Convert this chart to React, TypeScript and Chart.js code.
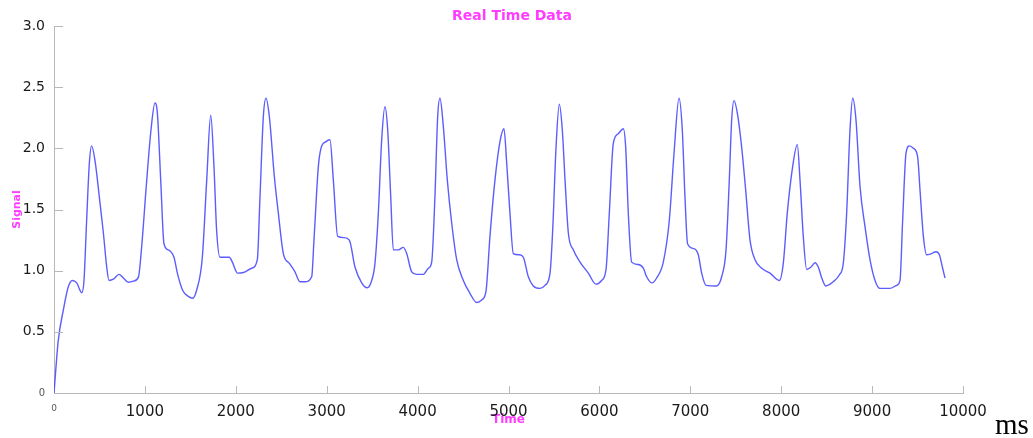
import React, { useEffect, useRef } from "react";
import { Chart, registerables } from "chart.js";

Chart.register(...registerables);

const timeMs = [
  0, 47, 103, 158, 202, 250, 305, 330, 359, 389, 414, 451, 499, 543, 580, 605, 653, 715, 763, 818, 873, 928,
  965, 1012, 1067, 1111, 1137, 1174, 1210, 1258, 1320, 1357, 1415, 1478, 1525, 1569, 1632, 1680, 1724, 1760,
  1789, 1826, 1929, 1962, 2020, 2083, 2174, 2237, 2266, 2303, 2332, 2369, 2424, 2468, 2523, 2589, 2651, 2706,
  2761, 2835, 2860, 2908, 2937, 2992, 3036, 3073, 3121, 3190, 3249, 3311, 3385, 3445, 3495, 3531, 3568, 3605,
  3641, 3671, 3704, 3733, 3788, 3843, 3880, 3935, 3990, 4063, 4118, 4155, 4191, 4221, 4246, 4283, 4327, 4375,
  4430, 4503, 4576, 4650, 4705, 4752, 4796, 4851, 4906, 4950, 4980, 5016, 5053, 5119, 5163, 5218, 5273, 5347,
  5402, 5457, 5486, 5523, 5559, 5592, 5622, 5658, 5713, 5787, 5878, 5962, 6025, 6073, 6109, 6153, 6208, 6263,
  6289, 6318, 6355, 6428, 6483, 6520, 6575, 6630, 6703, 6769, 6821, 6876, 6912, 6941, 6970, 7040, 7088, 7125,
  7173, 7290, 7345, 7393, 7429, 7455, 7481, 7517, 7565, 7609, 7657, 7712, 7785, 7877, 7979, 8023, 8067, 8126,
  8177, 8207, 8243, 8280, 8328, 8372, 8408, 8446, 8490, 8573, 8639, 8683, 8720, 8757, 8787, 8823, 8867, 8922,
  8977, 9032, 9087, 9197, 9270, 9307, 9336, 9373, 9410, 9454, 9501, 9527, 9564, 9600, 9655, 9703, 9740, 9773,
  9802,
];

const signal = [
  0, 0.43, 0.68, 0.87, 0.92, 0.9, 0.82, 0.92, 1.41, 1.88, 2.02, 1.9, 1.6, 1.31, 1.03, 0.92, 0.93, 0.97, 0.94,
  0.905, 0.915, 0.945, 1.2, 1.66, 2.15, 2.37, 2.29, 1.74, 1.22, 1.17, 1.11, 0.98, 0.84, 0.79, 0.775, 0.84, 1.11,
  1.74, 2.27, 1.85, 1.33, 1.11, 1.11, 1.07, 0.98, 0.985, 1.02, 1.09, 1.6, 2.26, 2.41, 2.26, 1.77, 1.47, 1.14,
  1.06, 0.99, 0.91, 0.91, 0.95, 1.25, 1.85, 2.0, 2.055, 2.07, 1.74, 1.28, 1.27, 1.25, 1.03, 0.9, 0.86, 0.92,
  1.06, 1.47, 2.07, 2.34, 2.15, 1.61, 1.17, 1.17, 1.19, 1.14, 0.99, 0.97, 0.97, 1.02, 1.07, 1.61, 2.26, 2.41,
  2.18, 1.74, 1.39, 1.09, 0.92, 0.815, 0.74, 0.76, 0.83, 1.28, 1.74, 2.055, 2.16, 1.88, 1.47, 1.14, 1.13, 1.11,
  0.95, 0.875, 0.855, 0.88, 0.98, 1.33, 2.01, 2.36, 2.15, 1.74, 1.31, 1.17, 1.07, 0.98, 0.89, 0.92, 1.01, 1.47,
  2.04, 2.12, 2.16, 2.01, 1.47, 1.07, 1.05, 1.02, 0.95, 0.9, 0.94, 1.07, 1.41, 1.96, 2.41, 2.15, 1.61, 1.22,
  1.18, 1.13, 0.98, 0.88, 0.875, 0.95, 1.17, 1.74, 2.23, 2.39, 2.29, 2.01, 1.66, 1.25, 1.09, 1.02, 0.98, 0.92,
  1.06, 1.47, 1.85, 2.03, 1.74, 1.28, 1.01, 1.03, 1.065, 1.03, 0.94, 0.875, 0.91, 0.965, 1.06, 1.47, 2.15, 2.41,
  2.23, 1.69, 1.36, 1.09, 0.92, 0.855, 0.855, 0.88, 0.92, 1.41, 1.96, 2.02, 2.0, 1.93, 1.66, 1.28, 1.13, 1.14,
  1.155, 1.13, 1.03, 0.94,
];

const xTickValues = [0, 1000, 2000, 3000, 4000, 5000, 6000, 7000, 8000, 9000, 10000];
const yTickValues = [0, 0.5, 1.0, 1.5, 2.0, 2.5, 3.0];

const MAGENTA = "#ff3cff";
const AXIS_GRAY = "#b8b8b8";

// Draws short tick marks pointing into the plot area, positioned by the chart's own scales.
const insideTicks = {
  id: "insideTicks",
  afterDraw(chart: any) {
    const { ctx, scales } = chart;
    const xs = scales.x;
    const ys = scales.y;
    ctx.save();
    ctx.strokeStyle = AXIS_GRAY;
    ctx.lineWidth = 1;
    ctx.beginPath();
    xTickValues.forEach((v) => {
      if (v === 0) return;
      const px = Math.round(xs.getPixelForValue(v)) + 0.5;
      ctx.moveTo(px, ys.bottom);
      ctx.lineTo(px, ys.bottom - 7);
    });
    yTickValues.forEach((v) => {
      const py = Math.round(ys.getPixelForValue(v)) + 0.5;
      const len = v === 0 ? 17 : 9;
      ctx.moveTo(xs.left, py);
      ctx.lineTo(xs.left + len, py);
    });
    ctx.stroke();
    ctx.restore();
  },
};

export default function App() {
  const canvasRef = useRef<HTMLCanvasElement | null>(null);

  useEffect(() => {
    if (!canvasRef.current) return;
    const points = timeMs.map((t, i) => ({ x: t, y: signal[i] }));
    const chart = new Chart(canvasRef.current, {
      type: "line",
      data: {
        datasets: [
          {
            label: "Signal",
            data: points,
            yAxisID: "y",
            borderColor: "rgba(70,70,255,0.88)",
            borderWidth: 1.4,
            pointRadius: 0,
            fill: false,
            cubicInterpolationMode: "monotone",
          },
        ],
      },
      options: {
        animation: false,
        responsive: false,
        maintainAspectRatio: false,
        layout: { padding: { left: 0, right: 9, top: 0, bottom: 0 } },
        plugins: {
          legend: { display: false },
          tooltip: { enabled: false },
          title: {
            display: true,
            text: "Real Time Data",
            color: MAGENTA,
            font: { family: "DejaVu Sans", size: 14, weight: "bold" },
            padding: { top: 7.5, bottom: 1.7 },
          },
        },
        scales: {
          x: {
            type: "linear",
            min: 0,
            max: 10000,
            afterBuildTicks: (scale: any) => {
              scale.ticks = xTickValues.map((v) => ({ value: v }));
            },
            afterFit: (scale: any) => {
              scale.height = 45;
            },
            grid: {
              drawOnChartArea: false,
              drawTicks: false,
            },
            border: { color: AXIS_GRAY, width: 1 },
            ticks: {
              padding: 10,
              maxRotation: 0,
              autoSkip: false,
              color: (ctx: any) => (ctx.tick && ctx.tick.value === 0 ? "#555" : "#1a1a1a"),
              font: (ctx: any) =>
                ctx.tick && ctx.tick.value === 0
                  ? { family: "DejaVu Sans", size: 9 }
                  : { family: "DejaVu Sans", size: 15 },
              callback: (v: any) => String(v),
            },
            title: {
              display: true,
              text: "Time",
              color: MAGENTA,
              font: { family: "DejaVu Sans", size: 12, weight: "bold" },
              padding: { top: 0, bottom: 11 },
            },
          },
          y: {
            type: "linear",
            position: "left",
            min: 0,
            max: 3,
            afterBuildTicks: (scale: any) => {
              scale.ticks = yTickValues.map((v) => ({ value: v }));
            },
            afterFit: (scale: any) => {
              scale.width = 54;
            },
            grid: {
              drawOnChartArea: false,
              drawTicks: false,
            },
            border: { color: AXIS_GRAY, width: 1 },
            ticks: {
              padding: 9,
              autoSkip: false,
              color: (ctx: any) => (ctx.tick && ctx.tick.value === 0 ? "#555" : "#1a1a1a"),
              font: (ctx: any) =>
                ctx.tick && ctx.tick.value === 0
                  ? { family: "DejaVu Sans", size: 10 }
                  : { family: "DejaVu Sans", size: 14 },
              callback: (v: any) => (Number(v) === 0 ? "0" : Number(v).toFixed(1)),
            },
            title: {
              display: true,
              text: "Signal",
              color: MAGENTA,
              font: { family: "DejaVu Sans", size: 11, weight: "bold" },
              padding: { top: 11, bottom: 0 },
            },
          },
          rightSpace: {
            type: "linear",
            position: "right",
            min: 0,
            max: 3,
            grid: { display: false, drawTicks: false },
            border: { display: false },
            ticks: { display: false },
            afterFit: (scale: any) => {
              scale.width = 61;
            },
          },
        },
      },
      plugins: [insideTicks],
    });
    return () => chart.destroy();
  }, []);

  return (
    <div style={{ position: "absolute", left: 0, top: 0, width: 1033, height: 438, background: "#fff" }}>
      <canvas
        ref={canvasRef}
        width={1033}
        height={438}
        style={{ position: "absolute", left: 0, top: 0, width: 1033, height: 438 }}
      />
      <span
        style={{
          position: "absolute",
          left: 995,
          top: 410,
          fontFamily: "'Liberation Serif', serif",
          fontSize: 29,
          lineHeight: 1,
          color: "#000",
        }}
      >
        ms
      </span>
    </div>
  );
}
